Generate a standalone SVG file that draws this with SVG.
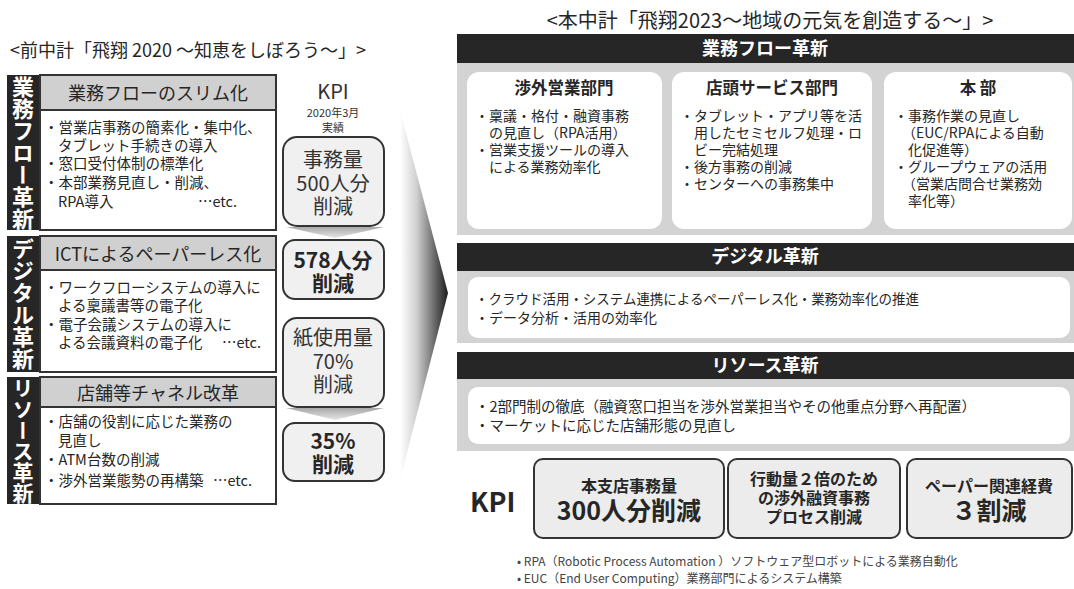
<svg xmlns="http://www.w3.org/2000/svg" width="1074" height="589" viewBox="0 0 1074 589">
<defs>
<linearGradient id="arrowGrad" x1="0" y1="0" x2="1" y2="0">
<stop offset="0" stop-color="#ffffff"/>
<stop offset="0.35" stop-color="#cfcfcf"/>
<stop offset="1" stop-color="#1c1c1c"/>
</linearGradient>
<linearGradient id="chevGrad" x1="0" y1="0" x2="0" y2="1">
<stop offset="0" stop-color="#a8a8a8"/>
<stop offset="1" stop-color="#e6e6e6"/>
</linearGradient>
<style>
text{font-family:"Noto Sans CJK JP","Noto Sans CJK SC",sans-serif;fill:#262626;}
.ttl{font-size:18px;}
.vbar{fill:#262626;}
.vtxt{font-size:22px;font-weight:bold;fill:#ffffff;writing-mode:vertical-rl;text-anchor:middle;}
.lhead{fill:#d0d0d0;stroke:#333;stroke-width:2;}
.lbody{fill:#ffffff;stroke:#333;stroke-width:2;}
.lh{font-size:18px;text-anchor:middle;}
.lt{font-size:14.5px;}
.kbox{fill:#f0f0f0;stroke:#333;stroke-width:2;}
.kt{font-size:20px;text-anchor:middle;fill:#333;}
.ktb{font-size:21px;text-anchor:middle;font-weight:bold;}
.bar{fill:#262626;}
.bart{font-size:18px;font-weight:bold;fill:#ffffff;text-anchor:middle;}
.grayarea{fill:#d3d3d3;}
.wbox{fill:#ffffff;}
.bt{font-size:16.5px;font-weight:bold;text-anchor:middle;}
.rt{font-size:14px;}
.rk{fill:#ececec;stroke:#333;stroke-width:2;}
.rks{font-size:16px;font-weight:bold;text-anchor:middle;}
.rkb{font-size:25px;font-weight:bold;}
.fn{font-size:12px;fill:#444;}
</style>
</defs>
<rect width="1074" height="589" fill="#ffffff"/>

<g id="left-title"><text class="ttl" x="10" y="57">&lt;前中計「飛翔 2020 ～知恵をしぼろう～」&gt;</text></g>

<g id="left-sec1">
<rect class="vbar" x="7" y="75" width="32" height="155"/>
<text class="vtxt" x="23" y="152.5">業務フロー革新</text>
<rect class="lhead" x="40" y="75" width="236" height="35"/>
<text class="lh" x="158" y="100">業務フローのスリム化</text>
<rect class="lbody" x="40" y="110" width="236" height="120"/>
<text class="lt"><tspan x="44" y="133">・営業店事務の簡素化・集中化、</tspan><tspan x="58" y="151">タブレット手続きの導入</tspan><tspan x="44" y="169">・窓口受付体制の標準化</tspan><tspan x="44" y="188">・本部業務見直し・削減、</tspan><tspan x="58" y="207">RPA導入</tspan><tspan x="198" y="207">…etc.</tspan></text>
</g>

<g id="left-sec2">
<rect class="vbar" x="7" y="236" width="32" height="136"/>
<text class="vtxt" x="23" y="304">デジタル革新</text>
<rect class="lhead" x="40" y="236" width="236" height="34"/>
<text class="lh" x="158" y="261">ICTによるペーパーレス化</text>
<rect class="lbody" x="40" y="270" width="236" height="102"/>
<text class="lt"><tspan x="44" y="293">・ワークフローシステムの導入に</tspan><tspan x="58" y="311">よる稟議書等の電子化</tspan><tspan x="44" y="330">・電子会議システムの導入に</tspan><tspan x="58" y="348">よる会議資料の電子化</tspan><tspan x="222" y="348">…etc.</tspan></text>
</g>

<g id="left-sec3">
<rect class="vbar" x="7" y="377" width="32" height="127"/>
<text class="vtxt" x="23" y="440.5" style="font-size:21px">リソース革新</text>
<rect class="lhead" x="40" y="377" width="236" height="30"/>
<text class="lh" x="158" y="400">店舗等チャネル改革</text>
<rect class="lbody" x="40" y="407" width="236" height="97"/>
<text class="lt"><tspan x="44" y="427">・店舗の役割に応じた業務の</tspan><tspan x="58" y="446">見直し</tspan><tspan x="44" y="465">・ATM台数の削減</tspan><tspan x="44" y="486">・渉外営業態勢の再構築</tspan><tspan x="213" y="486">…etc.</tspan></text>
</g>

<g id="left-kpi-head">
<text style="text-anchor:middle;fill:#333"><tspan x="333" y="99" style="font-size:20px">KPI</tspan><tspan x="333" y="117" style="font-size:11px">2020年3月</tspan><tspan x="333" y="132" style="font-size:11px">実績</tspan></text>
</g>
<g id="kpi-1">
<rect class="kbox" x="283" y="137" width="101" height="89" rx="14"/>
<text class="kt"><tspan x="333" y="167">事務量</tspan><tspan x="333" y="191">500人分</tspan><tspan x="333" y="214">削減</tspan></text>
</g>
<g id="kpi-2">
<rect class="kbox" x="283" y="240" width="101" height="59" rx="12"/>
<text class="ktb"><tspan x="333" y="268">578人分</tspan><tspan x="333" y="291">削減</tspan></text>
</g>
<g id="kpi-3">
<rect class="kbox" x="283" y="318" width="101" height="89" rx="14"/>
<text class="kt"><tspan x="333" y="345">紙使用量</tspan><tspan x="333" y="369">70%</tspan><tspan x="333" y="392">削減</tspan></text>
</g>
<g id="kpi-4">
<rect class="kbox" x="283" y="423" width="101" height="58" rx="12"/>
<text class="ktb"><tspan x="333" y="449">35%</tspan><tspan x="333" y="472">削減</tspan></text>
</g>

<g id="connectors">
<polygon points="400,110 448,293 400,480" fill="url(#arrowGrad)"/>
<polygon points="286,227 384,227 335,238" fill="url(#chevGrad)"/>
<polygon points="286,408 384,408 335,420" fill="url(#chevGrad)"/>
</g>

<g id="right-title"><text x="770" y="28" style="font-size:20px;text-anchor:middle">&lt;本中計「飛翔2023～地域の元気を創造する～」&gt;</text></g>

<g id="r-flow">
<rect class="grayarea" x="457" y="34" width="617" height="201"/>
<rect class="bar" x="457" y="34" width="617" height="29"/>
<text class="bart" x="765" y="55">業務フロー革新</text>
</g>
<g id="r-flow-sales">
<rect class="wbox" x="467" y="72" width="195" height="157" rx="12"/>
<text class="bt" x="564" y="94">渉外営業部門</text>
<text class="rt"><tspan x="475" y="121">・稟議・格付・融資事務</tspan><tspan x="489" y="138">の見直し（RPA活用）</tspan><tspan x="475" y="155">・営業支援ツールの導入</tspan><tspan x="489" y="172">による業務効率化</tspan></text>
</g>
<g id="r-flow-shop">
<rect class="wbox" x="672" y="72" width="200" height="157" rx="12"/>
<text class="bt" x="772" y="94">店頭サービス部門</text>
<text class="rt"><tspan x="680" y="121">・タブレット・アプリ等を活</tspan><tspan x="694" y="138">用したセミセルフ処理・ロ</tspan><tspan x="694" y="155">ビー完結処理</tspan><tspan x="680" y="172">・後方事務の削減</tspan><tspan x="680" y="189">・センターへの事務集中</tspan></text>
</g>
<g id="r-flow-hq">
<rect class="wbox" x="884" y="72" width="188" height="157" rx="12"/>
<text class="bt" x="978" y="94">本 部</text>
<text class="rt"><tspan x="894" y="121">・事務作業の見直し</tspan><tspan x="902" y="138">（EUC/RPAによる自動</tspan><tspan x="908" y="155">化促進等）</tspan><tspan x="894" y="172">・グループウェアの活用</tspan><tspan x="902" y="189">（営業店問合せ業務効</tspan><tspan x="908" y="206">率化等）</tspan></text>
</g>

<g id="r-digital">
<rect class="grayarea" x="457" y="243" width="617" height="100"/>
<rect class="bar" x="457" y="243" width="617" height="28"/>
<text class="bart" x="765" y="263">デジタル革新</text>
<rect class="wbox" x="468" y="277" width="602" height="61" rx="10"/>
<text class="rt"><tspan x="475" y="304" textLength="444" lengthAdjust="spacingAndGlyphs">・クラウド活用・システム連携によるペーパーレス化・業務効率化の推進</tspan><tspan x="475" y="323">・データ分析・活用の効率化</tspan></text>
</g>

<g id="r-resource">
<rect class="grayarea" x="457" y="352" width="617" height="99"/>
<rect class="bar" x="457" y="352" width="617" height="27"/>
<text class="bart" x="765" y="372">リソース革新</text>
<rect class="wbox" x="468" y="387" width="602" height="57" rx="10"/>
<text class="rt" style="font-size:14.5px"><tspan x="475" y="412" textLength="501" lengthAdjust="spacingAndGlyphs">・2部門制の徹底（融資窓口担当を渉外営業担当やその他重点分野へ再配置）</tspan><tspan x="475" y="431">・マーケットに応じた店舗形態の見直し</tspan></text>
</g>

<g id="r-kpi-label"><text x="470" y="512" style="font-size:27px;font-weight:bold">KPI</text></g>
<g id="r-kpi-1">
<rect class="rk" x="534" y="459" width="190" height="79" rx="9"/>
<text class="rks"><tspan x="629" y="492">本支店事務量</tspan><tspan x="629" y="520" class="rkb">300人分削減</tspan></text>
</g>
<g id="r-kpi-2">
<rect class="rk" x="728" y="459" width="172" height="79" rx="9"/>
<text class="rks"><tspan x="814" y="485">行動量２倍のため</tspan><tspan x="814" y="504">の渉外融資事務</tspan><tspan x="814" y="523">プロセス削減</tspan></text>
</g>
<g id="r-kpi-3">
<rect class="rk" x="907" y="459" width="165" height="79" rx="9"/>
<text class="rks"><tspan x="989" y="492">ペーパー関連経費</tspan><tspan x="989" y="520" class="rkb">３割減</tspan></text>
</g>

<g id="footnotes">
<text class="fn"><tspan x="517" y="566">• RPA（Robotic Process Automation ）ソフトウェア型ロボットによる業務自動化</tspan><tspan x="517" y="583">• EUC（End User Computing）業務部門によるシステム構築</tspan></text>
</g>
</svg>
